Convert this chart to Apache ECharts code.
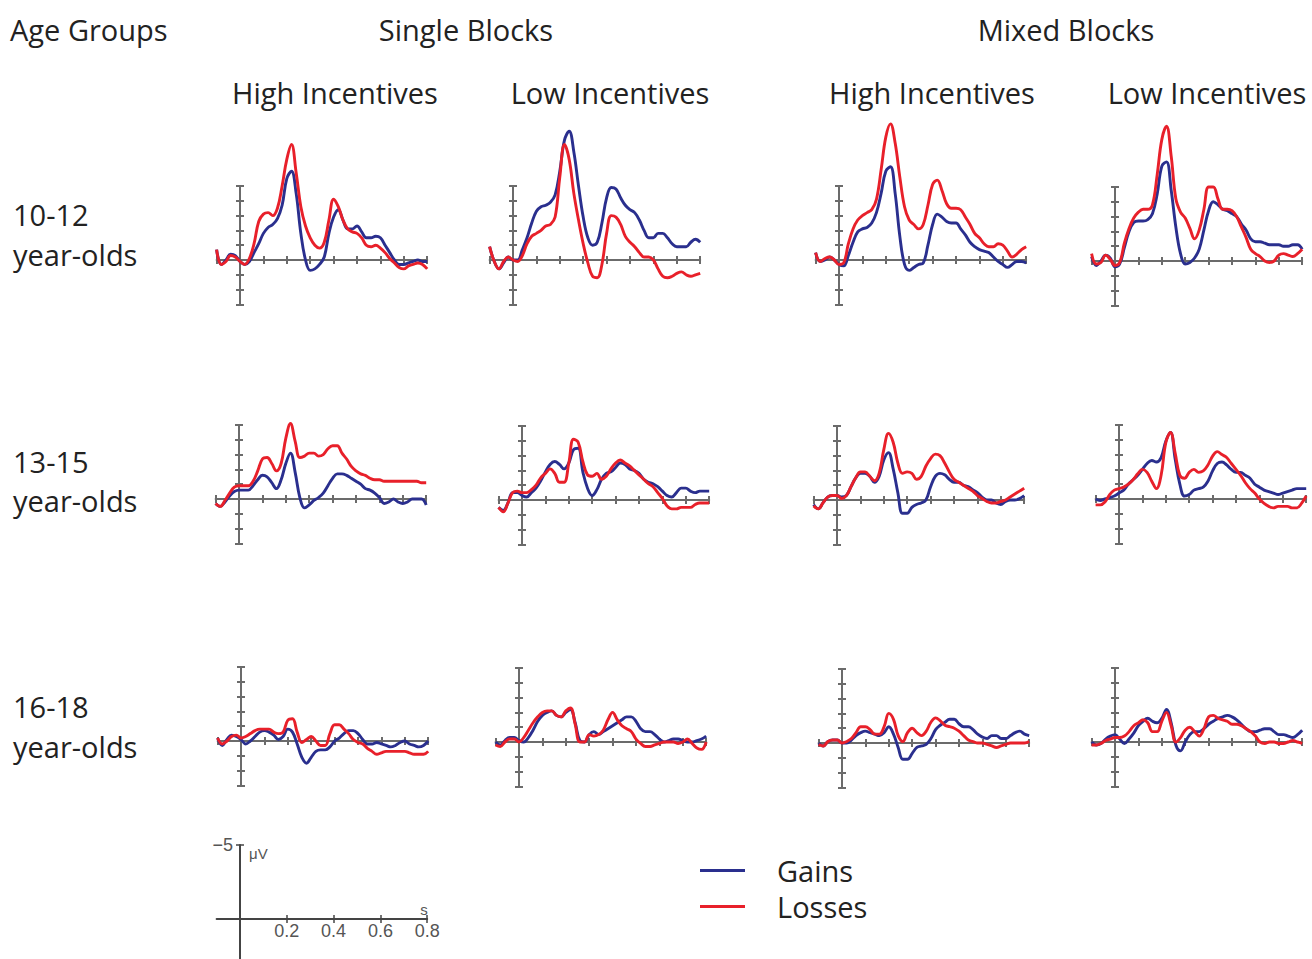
<!DOCTYPE html>
<html><head><meta charset="utf-8">
<script src="https://cdn.jsdelivr.net/npm/echarts@6/dist/echarts.min.js"></script>
<style>html,body{margin:0;padding:0;background:#fff}#c{width:1312px;height:959px}</style>
</head><body><div id="c"></div>
<script>
// time axis (s)
const times = [-0.1,-0.08,-0.06,-0.04,-0.02,0,0.02,0.04,0.06,0.08,0.1,0.12,0.14,0.16,0.18,0.2,0.22,0.24,0.26,0.28,0.3,0.32,0.34,0.36,0.38,0.4,0.42,0.44,0.46,0.48,0.5,0.52,0.54,0.56,0.58,0.6,0.62,0.64,0.66,0.68,0.7,0.72,0.74,0.76,0.78,0.8];

// category labels
const ageGroups = ['10-12', '13-15', '16-18'];
const blockTypes = ['Single Blocks', 'Mixed Blocks'];
const incentives = ['High Incentives', 'Low Incentives'];
const seriesNames = ['Gains', 'Losses'];
const scaleTicks = [0.2, 0.4, 0.6, 0.8];
const scaleAmp = [-5];

// amplitudes (µV), 10-12 year-olds
const g1012SingleHigh = [-0.7,0.3,0,-0.4,-0.3,0.1,0.3,0.1,-0.5,-1.1,-1.8,-2.2,-2.4,-2.8,-3.7,-5.5,-6.0,-4.5,-1.8,0,0.7,0.6,0.3,-0.2,-1.8,-2.9,-3.4,-2.7,-2.1,-2.1,-2.3,-1.9,-1.5,-1.5,-1.6,-1.5,-1.0,-0.5,0,0.3,0.3,0.2,0.1,0,0.1,0.1];
const l1012SingleHigh = [-0.7,0.3,0.1,-0.3,-0.2,0.1,0.3,-0.1,-1.1,-2.6,-3.1,-3.2,-3.0,-3.5,-5.0,-6.8,-7.8,-5.9,-3.6,-2.3,-1.5,-1.0,-0.8,-1.2,-2.7,-4.1,-3.6,-2.7,-2.1,-1.9,-1.8,-1.5,-1.0,-0.9,-1.0,-0.8,-0.5,-0.1,0.2,0.5,0.6,0.4,0.3,0.2,0.3,0.6];
const g1012SingleLow = [-0.9,0.1,0.6,0.2,-0.2,0,0,-0.7,-1.5,-2.5,-3.3,-3.6,-3.7,-3.9,-4.4,-6.0,-8.1,-8.7,-7.3,-5.0,-2.9,-1.5,-1.0,-1.2,-2.5,-4.2,-4.9,-4.8,-4.2,-3.7,-3.4,-3.2,-2.7,-2.0,-1.5,-1.5,-1.8,-1.8,-1.5,-1.1,-0.9,-0.9,-0.9,-1.2,-1.4,-1.2];
const l1012SingleLow = [-0.9,0.1,0.6,0.1,-0.2,0,0.1,-0.3,-1.1,-1.6,-1.8,-2.0,-2.3,-2.4,-2.9,-5.6,-7.8,-6.8,-4.5,-2.7,-1.1,0.2,1.1,1.2,0.3,-1.8,-3.0,-2.9,-2.4,-1.6,-1.2,-0.9,-0.5,-0.2,-0.2,0,0.6,1.1,1.2,1.1,0.9,0.8,1.0,1.1,1.0,0.9];
const g1012MixedHigh = [-0.5,0.1,0,-0.2,0,0.3,0.4,-0.3,-1.2,-1.9,-2.1,-2.2,-2.5,-3.2,-4.5,-6.0,-6.3,-4.5,-1.6,0.3,0.7,0.5,0.3,0.2,-1.0,-2.4,-3.1,-2.9,-2.6,-2.5,-2.5,-2.1,-1.7,-1.2,-0.9,-0.7,-0.6,-0.5,-0.2,0.1,0.3,0.5,0.3,0.1,0.1,0.2];
const l1012MixedHigh = [-0.5,0.1,-0.1,-0.2,0,0.3,0.2,-1.1,-2.1,-2.7,-3.0,-3.2,-3.4,-4.1,-6.1,-8.3,-9.2,-7.9,-5.6,-3.6,-2.7,-2.4,-2.1,-2.4,-3.7,-5.1,-5.4,-4.7,-3.8,-3.5,-3.5,-3.4,-2.9,-2.4,-1.8,-1.5,-1.1,-0.9,-0.9,-1.1,-1.0,-0.6,-0.2,-0.4,-0.7,-0.9];
const g1012MixedLow = [-0.3,0.3,0,-0.4,-0.2,0.4,0.2,-0.9,-2.0,-2.6,-2.7,-2.7,-2.8,-3.2,-4.5,-6.4,-6.7,-4.8,-2.3,-0.5,0.2,0.1,-0.2,-0.8,-2.1,-3.4,-4.0,-3.8,-3.5,-3.4,-3.2,-3.0,-2.5,-2.1,-1.5,-1.3,-1.3,-1.2,-1.1,-1.1,-1.1,-1.0,-1.0,-1.1,-1.1,-0.8];
const l1012MixedLow = [-0.5,0.2,0.1,-0.4,-0.1,0.3,0.1,-1.2,-2.2,-2.9,-3.3,-3.5,-3.5,-3.8,-5.8,-8.2,-9.1,-7.1,-4.2,-3.3,-2.9,-2.2,-1.5,-2.1,-3.5,-5.0,-5.0,-4.2,-3.5,-3.5,-3.4,-3.0,-2.3,-1.6,-0.8,-0.5,-0.3,0,0.1,0,-0.4,-0.5,-0.4,-0.3,-0.5,-0.8];

// 13-15 year-olds
const g1315SingleHigh = [0.3,0.5,0.2,-0.2,-0.5,-0.6,-0.6,-0.6,-0.9,-1.3,-1.6,-1.5,-1.1,-0.7,-1.3,-2.4,-3.1,-1.8,-0.1,0.6,0.4,0.1,-0.1,-0.4,-0.9,-1.4,-1.7,-1.7,-1.6,-1.4,-1.2,-1.0,-0.7,-0.6,-0.4,-0.1,0.3,0.2,0,0.2,0.3,0.2,0,0,0,0.4];
const l1315SingleHigh = [0.3,0.5,0.1,-0.4,-0.8,-0.9,-0.9,-0.9,-1.2,-1.9,-2.7,-2.8,-2.4,-1.9,-2.4,-4.1,-5.1,-3.9,-2.8,-2.9,-3.1,-3.1,-2.9,-3.0,-3.4,-3.6,-3.6,-3.1,-2.7,-2.2,-1.9,-1.7,-1.6,-1.4,-1.3,-1.3,-1.2,-1.2,-1.2,-1.2,-1.2,-1.2,-1.2,-1.2,-1.1,-1.1];
const g1315SingleLow = [0.5,0.7,0.2,-0.5,-0.5,-0.3,-0.2,-0.5,-0.8,-1.3,-1.9,-2.4,-2.6,-2.4,-2.1,-2.5,-3.4,-3.5,-1.9,-0.8,-0.3,-0.7,-1.4,-1.8,-1.9,-2.2,-2.5,-2.4,-2.1,-2.0,-1.8,-1.4,-1.2,-1.1,-0.9,-0.6,-0.3,-0.2,-0.5,-0.8,-0.8,-0.6,-0.5,-0.6,-0.6,-0.6];
const l1315SingleLow = [0.5,0.8,0.2,-0.5,-0.6,-0.5,-0.5,-0.7,-1.0,-1.5,-1.8,-2.1,-1.8,-1.2,-1.2,-2.5,-4.1,-3.9,-2.6,-1.7,-1.6,-1.8,-1.4,-1.6,-2.1,-2.5,-2.7,-2.5,-2.3,-2.0,-1.7,-1.4,-1.1,-0.9,-0.5,-0.1,0.4,0.6,0.6,0.5,0.5,0.5,0.3,0.2,0.2,0.2];
const g1315MixedHigh = [0.3,0.6,0.2,-0.2,-0.3,-0.3,-0.2,-0.3,-0.9,-1.5,-1.8,-1.8,-1.6,-1.2,-1.6,-2.7,-3.2,-2.1,-0.5,0.9,0.9,0.5,0.3,0.2,0,-0.9,-1.6,-1.8,-1.7,-1.4,-1.2,-1.2,-1.0,-0.9,-0.7,-0.5,-0.2,0,0,0.2,0.3,0.1,0,0,-0.1,-0.3];
const l1315MixedHigh = [0.4,0.6,0.2,-0.2,-0.3,-0.3,-0.1,-0.3,-0.9,-1.5,-1.9,-1.9,-1.6,-1.3,-1.8,-3.4,-4.5,-3.9,-2.5,-1.8,-1.9,-1.8,-1.4,-1.6,-2.3,-2.8,-3.1,-3.0,-2.5,-1.9,-1.4,-1.2,-1.0,-0.8,-0.6,-0.3,-0.1,0.1,0.2,0.2,0.1,0,-0.2,-0.4,-0.6,-0.8];
const g1315MixedLow = [0,0.1,0,-0.1,-0.2,-0.4,-0.6,-1.0,-1.3,-1.6,-2.0,-2.4,-2.6,-2.5,-2.8,-3.9,-4.5,-2.7,-1.0,-0.2,-0.3,-0.6,-0.7,-0.8,-1.2,-1.9,-2.4,-2.5,-2.3,-2.0,-1.8,-1.8,-1.6,-1.4,-1.0,-0.8,-0.6,-0.5,-0.4,-0.3,-0.4,-0.5,-0.6,-0.7,-0.7,-0.7];
const l1315MixedLow = [0.4,0.4,0.2,-0.3,-0.6,-0.7,-0.8,-1.0,-1.3,-1.7,-2.0,-1.8,-1.2,-0.7,-1.6,-3.8,-4.5,-3.1,-1.6,-1.4,-1.8,-2.0,-1.8,-1.9,-2.3,-2.9,-3.2,-3.0,-2.8,-2.4,-2.0,-1.6,-1.1,-0.7,-0.4,0,0.3,0.5,0.6,0.5,0.5,0.5,0.6,0.6,0.3,-0.2];

// 16-18 year-olds
const g1618SingleHigh = [-0.2,0.3,-0.1,-0.4,-0.3,-0.1,0.2,0,-0.3,-0.6,-0.7,-0.6,-0.4,-0.1,-0.3,-0.8,-0.6,0.2,1.1,1.5,1.1,0.7,0.6,0.6,0.4,0,-0.2,-0.5,-0.7,-0.7,-0.5,-0.1,0.2,0.2,0.1,0.2,0.3,0.4,0.3,0.1,0,0.2,0.3,0.4,0.3,0];
const l1618SingleHigh = [-0.2,0.2,0,-0.3,-0.4,-0.2,-0.3,-0.5,-0.7,-0.8,-0.8,-0.8,-0.6,-0.5,-0.6,-1.4,-1.5,-0.6,0.1,-0.1,-0.3,0,0.3,0.3,-0.5,-1.1,-1.1,-0.8,-0.5,-0.1,0.1,0.2,0.5,0.7,0.9,0.8,0.7,0.7,0.7,0.7,0.7,0.8,0.9,0.9,0.9,0.7];
const g1618SingleLow = [0,0.2,-0.1,-0.3,-0.3,-0.1,0,-0.3,-0.8,-1.4,-1.8,-2.0,-2.1,-1.8,-1.7,-2.0,-2.2,-1.3,-0.1,0,-0.5,-0.7,-0.5,-0.7,-0.9,-1.1,-1.3,-1.5,-1.7,-1.7,-1.4,-0.9,-0.7,-0.7,-0.5,-0.2,0,-0.1,-0.2,-0.2,-0.1,0,0,-0.1,-0.2,-0.4];
const l1618SingleLow = [0.2,0.3,0,-0.2,-0.2,0,-0.3,-0.8,-1.3,-1.7,-2.0,-2.1,-2.1,-1.8,-1.7,-2.1,-2.3,-1.2,0,0,-0.5,-0.4,-0.5,-0.8,-1.5,-2.0,-1.5,-1.1,-0.9,-0.7,-0.2,0.1,0.3,0.3,0.2,0.1,0,0,0,0.1,0,-0.2,0.1,0.4,0.5,0];
const g1618MixedHigh = [0,0.2,-0.1,-0.2,-0.2,0,0,-0.2,-0.5,-0.7,-0.8,-0.7,-0.6,-0.5,-0.7,-1.1,-0.6,0.3,1.1,1.1,0.7,0.3,0.2,0.1,-0.3,-0.9,-1.2,-1.4,-1.6,-1.6,-1.3,-1.1,-1.1,-0.9,-0.6,-0.4,-0.3,-0.5,-0.5,-0.3,-0.3,-0.5,-0.7,-0.8,-0.6,-0.5];
const l1618MixedHigh = [0.1,0.2,-0.1,-0.2,-0.2,0,-0.1,-0.3,-0.7,-1.1,-1.1,-0.9,-0.6,-0.6,-1.1,-2.0,-1.6,-0.5,-0.1,-0.7,-1.0,-0.7,-0.5,-0.8,-1.4,-1.7,-1.5,-1.2,-1.1,-1.0,-0.8,-0.5,-0.2,-0.1,0,0,0.1,0.2,0.3,0.2,0.1,0,0,0,0,-0.1];
const g1618MixedLow = [0,0.2,0.1,-0.2,-0.4,-0.5,-0.2,0.1,-0.2,-0.6,-1.1,-1.4,-1.6,-1.4,-1.3,-1.6,-2.2,-1.3,0.2,0.6,0,-0.5,-0.7,-0.7,-0.9,-1.2,-1.4,-1.6,-1.7,-1.8,-1.7,-1.5,-1.2,-0.9,-0.7,-0.7,-0.8,-0.9,-0.9,-0.7,-0.5,-0.5,-0.4,-0.3,-0.5,-0.8];
const l1618MixedLow = [0.2,0.2,0.1,-0.1,-0.2,-0.3,-0.3,-0.4,-0.7,-1.1,-1.3,-1.5,-1.3,-0.7,-0.7,-1.4,-2.0,-1.1,0,-0.3,-0.8,-1.0,-0.7,-0.4,-0.9,-1.7,-1.8,-1.6,-1.5,-1.4,-1.2,-1.2,-1.1,-0.9,-0.7,-0.4,0,0.1,0,0,0.1,0.1,0,-0.1,0,0.1];

// ---------- layout & styles ----------
const PX_PER_S = 234, PX_PER_UV = 14.8;
const zeroX = [[240,513,839,1115],[239,522,837,1119],[241,519,842,1115]];
const zeroY = [[260,260,260,261],[499,500,500,499],[741,742,743,742]];
const BLUE = '#2a2f8e', RED = '#e8202a', AX = '#6b6b6b', TXT = '#222';
const FONT = 'Open Sans';

const panelData = [
  [[g1012SingleHigh,l1012SingleHigh],[g1012SingleLow,l1012SingleLow],[g1012MixedHigh,l1012MixedHigh],[g1012MixedLow,l1012MixedLow]],
  [[g1315SingleHigh,l1315SingleHigh],[g1315SingleLow,l1315SingleLow],[g1315MixedHigh,l1315MixedHigh],[g1315MixedLow,l1315MixedLow]],
  [[g1618SingleHigh,l1618SingleHigh],[g1618SingleLow,l1618SingleLow],[g1618MixedHigh,l1618MixedHigh],[g1618MixedLow,l1618MixedLow]]
];

const grids = [], xAxes = [], yAxes = [], series = [];

function addGrid(x0, y0, ymax) {
  grids.push({left: x0 - 0.1 * PX_PER_S, top: y0 - 5 * PX_PER_UV,
    width: 0.9 * PX_PER_S, height: (5 + ymax) * PX_PER_UV,
    containLabel: false, outerBoundsMode: 'none'});
  return grids.length - 1;
}

function addAxes(gi, cfg) {
  const xi = xAxes.length, yi = yAxes.length;
  [false, true].forEach((inside, k) => {
    xAxes.push({type: 'value', gridIndex: gi, position: 'bottom', min: -0.1, max: 0.8, interval: 0.1,
      axisLine: {show: true, onZero: true, onZeroAxisIndex: yi, lineStyle: {color: cfg.color, width: 2, opacity: k ? 0 : 1}},
      axisTick: Object.assign({show: true, inside: inside, length: 4, lineStyle: {color: cfg.color, width: cfg.tickWidth}}, cfg.xTick || {}),
      axisLabel: {show: false},
      splitLine: {show: false}});
    yAxes.push({type: 'value', gridIndex: gi, position: 'left', inverse: true, min: -5, max: cfg.ymax, interval: 1,
      axisLine: {show: true, onZero: true, onZeroAxisIndex: xi, lineStyle: {color: cfg.color, width: 2, opacity: k ? 0 : 1}},
      axisTick: Object.assign({show: true, inside: inside, length: 4, lineStyle: {color: cfg.color, width: cfg.tickWidth}}, cfg.yTick || {}),
      axisLabel: {show: false},
      splitLine: {show: false}});
  });
  return [xi, yi];
}

for (let r = 0; r < 3; r++) {
  for (let c = 0; c < 4; c++) {
    const gi = addGrid(zeroX[r][c], zeroY[r][c], 3);
    const [xi, yi] = addAxes(gi, {color: AX, tickWidth: 2, ymax: 3});
    const pair = panelData[r][c];
    [[pair[0], BLUE, seriesNames[0]], [pair[1], RED, seriesNames[1]]].forEach(([vals, col, nm], k) => {
      series.push({type: 'line', name: nm, xAxisIndex: xi, yAxisIndex: yi,
        data: times.map((t, j) => [t, vals[j]]),
        smooth: 0.4, symbol: 'none', clip: false, silent: true, z: 3 + k,
        lineStyle: {color: col, width: 2.9}, itemStyle: {color: col}});
    });
  }
}

// scale bar panel
const sg = addGrid(240, 919, 2.7);
const [sxi, syi] = addAxes(sg, {color: '#444', tickWidth: 1.5, ymax: 2.7,
  xTick: {customValues: scaleTicks, length: 4},
  yTick: {customValues: scaleAmp, length: 4}
});

function txt(x, y, text, opt) {
  return Object.assign({type: 'text', x: x, y: y, silent: true,
    style: Object.assign({text: text, fontSize: 29, fontFamily: FONT, fill: TXT, align: 'left', verticalAlign: 'middle'}, opt || {})});
}

const graphic = [
  txt(10, 29, 'Age Groups'),
  txt(466, 29, blockTypes[0], {align: 'center'}),
  txt(1066, 29, blockTypes[1], {align: 'center'}),
  txt(335, 92, incentives[0], {align: 'center'}),
  txt(610, 92, incentives[1], {align: 'center'}),
  txt(932, 92, incentives[0], {align: 'center'}),
  txt(1207, 92, incentives[1], {align: 'center'}),
  txt(13, 214, ageGroups[0]), txt(13, 254, 'year-olds'),
  txt(13, 461, ageGroups[1]), txt(13, 500, 'year-olds'),
  txt(13, 706, ageGroups[2]), txt(13, 746, 'year-olds'),
  txt(249, 853, '\u03bcV', {fontSize: 15, fontFamily: 'Liberation Sans', fill: '#555'}),
  txt(424, 909, 's', {fontSize: 15, fontFamily: 'Liberation Sans', fill: '#555', align: 'center'})
];

const chart = echarts.init(document.getElementById('c'), null, {renderer: 'svg', width: 1312, height: 959});
chart.setOption({
  backgroundColor: '#fff',
  animation: false,
  grid: grids, xAxis: xAxes, yAxis: yAxes, series: series,
  legend: {data: seriesNames, orient: 'vertical', left: 695, top: 851, icon: 'rect',
    itemWidth: 45, itemHeight: 3, itemGap: 7, selectedMode: false,
    textStyle: {fontSize: 29, fontFamily: FONT, color: TXT, padding: [0, 0, 0, 27]}},
  graphic: graphic
});

// scale-bar tick labels, placed through the scale bar's own axes
const zeroPx = chart.convertToPixel({yAxisIndex: syi}, 0);
const axisPx = chart.convertToPixel({xAxisIndex: sxi}, 0);
const scaleLabels = scaleTicks.map(v => txt(chart.convertToPixel({xAxisIndex: sxi}, v), zeroPx + 12, String(v),
  {fontSize: 18, fontFamily: 'Liberation Sans', fill: '#555', align: 'center'}));
scaleAmp.forEach(v => scaleLabels.push(txt(axisPx - 7, chart.convertToPixel({yAxisIndex: syi}, v), '\u2212' + Math.abs(v),
  {fontSize: 18, fontFamily: 'Liberation Sans', fill: '#555', align: 'right'})));
chart.setOption({graphic: graphic.concat(scaleLabels)});
</script></body></html>
